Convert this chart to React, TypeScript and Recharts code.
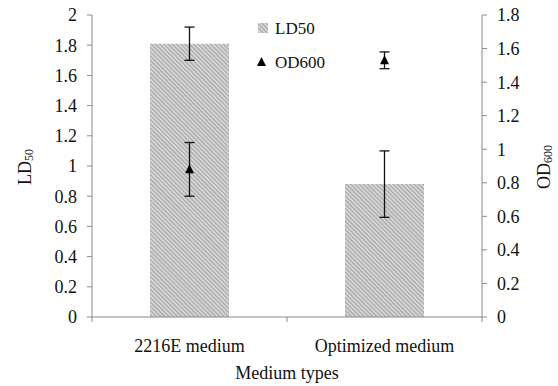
import React from 'react';
import { ComposedChart, Bar, Scatter, XAxis, YAxis, ErrorBar } from 'recharts';

const categories = ['2216E medium', 'Optimized medium'];
const ld50Values = [1.81, 0.88];
const ld50Errors = [0.11, 0.22];
const od600Values = [0.88, 1.53];
const od600Errors = [0.16, 0.05];
const leftTicks = [0, 0.2, 0.4, 0.6, 0.8, 1, 1.2, 1.4, 1.6, 1.8, 2];
const rightTicks = [0, 0.2, 0.4, 0.6, 0.8, 1, 1.2, 1.4, 1.6, 1.8];

const data = categories.map((name, i) => ({
  name,
  ld50: ld50Values[i],
  ldErr: ld50Errors[i],
  od600: od600Values[i],
  odErr: od600Errors[i],
}));

const W = 558;
const H = 386;
const LEFT_W = 92;
const RIGHT_W = 76;
const TOP = 15;
const XAXIS_H = 69;
const PLOT_W = W - LEFT_W - RIGHT_W;
const PLOT_BOTTOM = H - XAXIS_H;
const FONT = '"Liberation Serif", "Times New Roman", serif';
const AXIS_COLOR = '#8a8a8a';
const TEXT_COLOR = '#111';

const band = PLOT_W / categories.length;

const XTick = (props: any) => {
  const { x, index } = props;
  const value = props.payload?.value;
  return (
    <g>
      {index === 0 && (
        <line x1={x - band / 2} x2={x - band / 2} y1={PLOT_BOTTOM} y2={PLOT_BOTTOM + 5} stroke={AXIS_COLOR} />
      )}
      <line x1={x + band / 2} x2={x + band / 2} y1={PLOT_BOTTOM} y2={PLOT_BOTTOM + 5} stroke={AXIS_COLOR} />
      <text x={x} y={PLOT_BOTTOM + 35} textAnchor="middle" fontFamily={FONT} fontSize={18} fill={TEXT_COLOR}>
        {value}
      </text>
    </g>
  );
};

const Triangle = (props: any) => {
  const { cx, cy } = props;
  if (cx == null || cy == null) return null;
  return <path d={`M${cx},${cy - 5} L${cx + 4.5},${cy + 4} L${cx - 4.5},${cy + 4} Z`} fill="#000" />;
};

export default function App() {
  return (
    <div style={{ position: 'absolute', left: 0, top: 0, width: W, height: H, background: '#fff' }}>
      <svg width={0} height={0} style={{ position: 'absolute' }}>
        <defs>
          <pattern id="hatch" width="3" height="3" patternUnits="userSpaceOnUse" patternTransform="rotate(-45)">
            <rect width="3" height="3" fill="#dedede" />
            <rect width="1.4" height="3" fill="#a6a6a6" />
          </pattern>
        </defs>
      </svg>
      <ComposedChart
        width={W}
        height={H}
        data={data}
        margin={{ top: TOP, right: 0, bottom: 0, left: 0 }}
        barCategoryGap={0}
      >
        <XAxis
          dataKey="name"
          xAxisId={0}
          height={XAXIS_H}
          axisLine={{ stroke: AXIS_COLOR }}
          tickLine={false}
          tick={<XTick />}
          interval={0}
        />
        <YAxis
          yAxisId="l"
          orientation="left"
          width={LEFT_W}
          domain={[0, 2]}
          ticks={leftTicks}
          interval={0}
          axisLine={{ stroke: AXIS_COLOR }}
          tickLine={{ stroke: AXIS_COLOR }}
          tickSize={5}
          tickMargin={10}
          tick={{ fontFamily: FONT, fontSize: 18, fill: TEXT_COLOR }}
        />
        <YAxis
          yAxisId="r"
          orientation="right"
          width={RIGHT_W}
          domain={[0, 1.8]}
          ticks={rightTicks}
          interval={0}
          axisLine={{ stroke: AXIS_COLOR }}
          tickLine={{ stroke: AXIS_COLOR }}
          tickSize={5}
          tickMargin={10}
          tick={{ fontFamily: FONT, fontSize: 18, fill: TEXT_COLOR }}
        />
        <Bar dataKey="ld50" yAxisId="l" barSize={79} fill="url(#hatch)" isAnimationActive={false}>
          <ErrorBar dataKey="ldErr" width={5} stroke="#111" strokeWidth={1.3} direction="y" />
        </Bar>
        <Scatter dataKey="od600" yAxisId="r" shape={<Triangle />} isAnimationActive={false}>
          <ErrorBar dataKey="odErr" width={5} stroke="#111" strokeWidth={1.3} direction="y" />
        </Scatter>
      </ComposedChart>
      <svg width={W} height={H} style={{ position: 'absolute', left: 0, top: 0, pointerEvents: 'none' }}>
        <text transform="translate(31,167) rotate(-90)" textAnchor="middle" fontFamily={FONT} fontSize={18} fill={TEXT_COLOR}>
          LD<tspan fontSize={12} dy={2}>50</tspan>
        </text>
        <text transform="translate(550,167) rotate(-90)" textAnchor="middle" fontFamily={FONT} fontSize={18} fill={TEXT_COLOR}>
          OD<tspan fontSize={12} dy={2}>600</tspan>
        </text>
        <text x={LEFT_W + PLOT_W / 2} y={379} textAnchor="middle" fontFamily={FONT} fontSize={18} fill={TEXT_COLOR}>
          Medium types
        </text>
        <rect x={258} y={23} width={10} height={10} fill="url(#hatch)" />
        <text x={275} y={34} fontFamily={FONT} fontSize={17} fill={TEXT_COLOR}>LD50</text>
        <path d="M261.5,57 L266,66 L257,66 Z" fill="#000" />
        <text x={275} y={68} fontFamily={FONT} fontSize={17} fill={TEXT_COLOR}>OD600</text>
      </svg>
    </div>
  );
}
